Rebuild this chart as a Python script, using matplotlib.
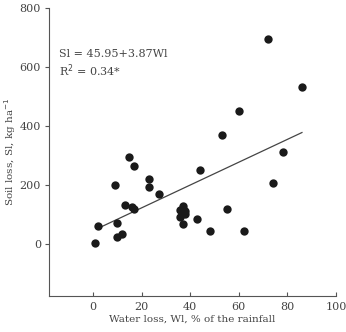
import matplotlib
matplotlib.use("Agg")
import matplotlib.pyplot as plt
import numpy as np

water_loss = [1, 2, 9, 10, 10, 12, 13, 15, 16, 17, 17, 23, 23, 27,
              36, 36, 37, 37, 38, 38, 37, 43, 44, 48, 53, 55, 60, 62,
              72, 74, 78, 86]
soil_loss = [3, 62, 200, 72, 25, 35, 134, 295, 125, 265, 118, 221, 193, 170,
             92, 115, 128, 68, 113, 103, 121, 84, 251, 44, 369, 121, 452, 44,
             695, 209, 313, 532]
intercept = 45.95
slope = 3.87
fit_x = [2, 86]
xticks = [0, 20, 40, 60, 80, 100]
yticks = [0, 200, 400, 600, 800]

plt.rcParams['font.family'] = ['DejaVu Serif']
txt = '#444444'

fig = plt.figure(figsize=(3.46, 3.32), dpi=100)
ax = fig.add_axes([0.1425, 0.108, 0.8285, 0.867])

ax.scatter(water_loss, soil_loss, s=36, color='#1a1a1a', zorder=3, linewidths=0)
fx = np.array(fit_x, dtype=float)
ax.plot(fx, intercept + slope * fx, color='#444444', lw=0.9, zorder=2)

ax.set_xlim(-18, 100)
ax.set_ylim(-176, 800)
ax.set_xticks(xticks)
ax.set_yticks(yticks)
ax.spines['top'].set_visible(False)
ax.spines['right'].set_visible(False)
for s in ['left', 'bottom']:
    ax.spines[s].set_color('#555555')
    ax.spines[s].set_linewidth(0.8)
ax.tick_params(axis='x', direction='in', length=3, colors='#555555', labelcolor=txt, labelsize=8, pad=4)
ax.tick_params(axis='y', direction='out', length=3, colors='#555555', labelcolor=txt, labelsize=8, pad=3)

ax.set_xlabel('Water loss, Wl, % of the rainfall', fontsize=7.5, color=txt, labelpad=2)
ax.set_ylabel('Soil loss, Sl, kg ha$^{-1}$', fontsize=7.5, color=txt, labelpad=1)

ax.text(-14, 645, 'Sl = 45.95+3.87Wl', fontsize=8, color=txt, va='center')
ax.text(-14, 590, 'R$^2$ = 0.34*', fontsize=8, color=txt, va='center')

fig.savefig('out.png', dpi=100)
